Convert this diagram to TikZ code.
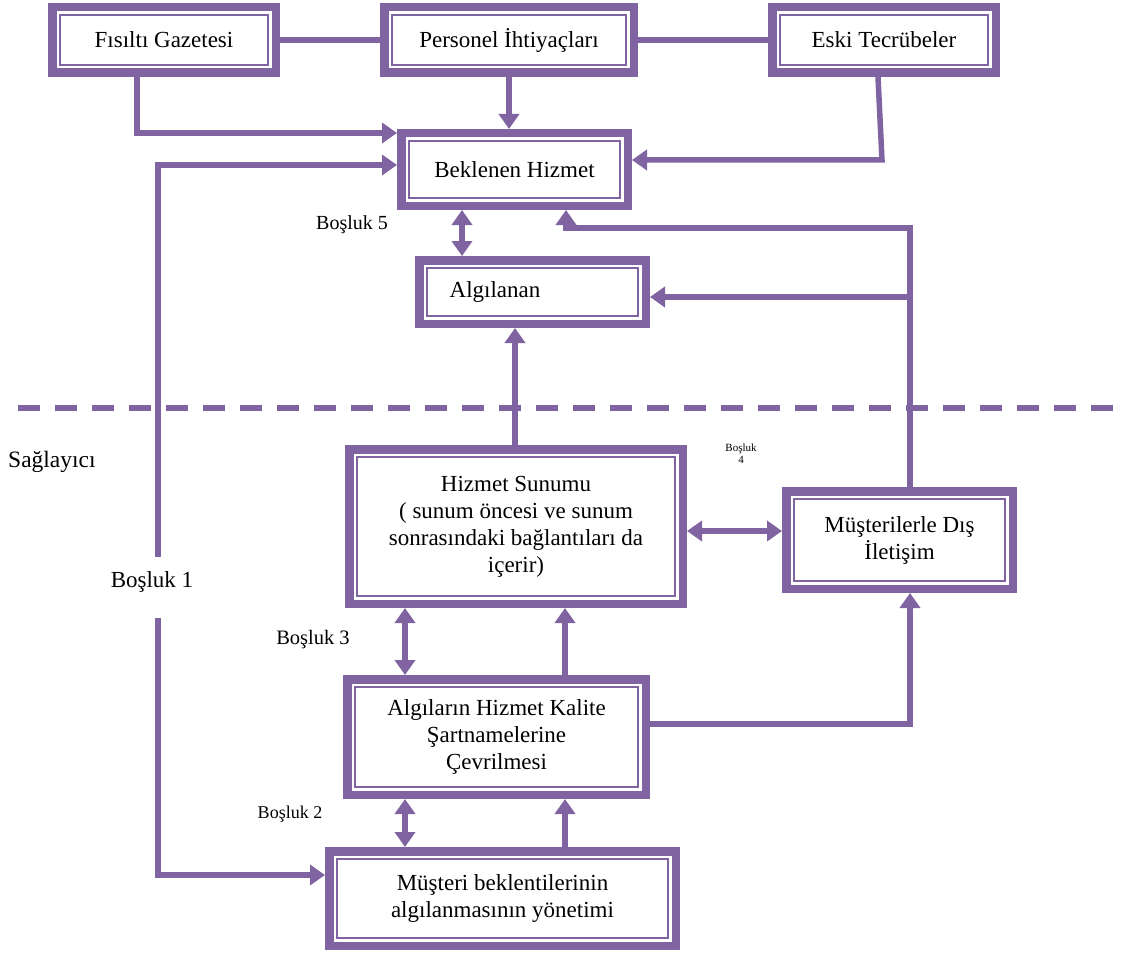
\documentclass[tikz,border=0pt]{standalone}
\usepackage{fontspec}
\setmainfont{Liberation Serif}
\usetikzlibrary{arrows.meta,calc}
\definecolor{pur}{HTML}{8064A2}
\newcommand\boxfont{\fontsize{23}{27}\selectfont}
\begin{document}
\begin{tikzpicture}[x=1pt,y=-1pt,
  box/.style={draw=pur, line width=8.5pt, fill=white, inner sep=0pt, outer sep=4.25pt, align=center, font=\boxfont},
  frame/.style={draw=pur, line width=1.6pt},
  conn/.style={draw=pur, line width=5.5pt},
  arr/.style={conn, -{Triangle[length=15pt,width=20pt]}},
  darr/.style={conn, {Triangle[length=15pt,width=20pt]}-{Triangle[length=15pt,width=20pt]}},
  lbl/.style={inner sep=0pt, align=center},
]
\useasboundingbox (0,0) rectangle (1125,955);

% boxes
\node[box, minimum width=223.5pt, minimum height=65.5pt] (fis) at (164,40) {Fısıltı Gazetesi};
\node[box, minimum width=249.5pt, minimum height=65.5pt] (per) at (509,40) {Personel İhtiyaçları};
\node[box, minimum width=223.5pt, minimum height=65.5pt] (eski) at (884,40) {Eski Tecrübeler};
\node[box, minimum width=226.5pt, minimum height=72.5pt] (bek) at (514.5,169.5) {Beklenen Hizmet};
\node[box, minimum width=226.5pt, minimum height=63.5pt] (alg) at (532.5,292) {};
\node[lbl, font=\boxfont] (algt) at (495,292) {Algılanan};
\node[box, minimum width=333.5pt, minimum height=154.5pt] (sun) at (516,526.5)
  {Hizmet Sunumu\\( sunum öncesi ve sunum\\sonrasındaki bağlantıları da\\içerir)};
\node[box, minimum width=226.5pt, minimum height=97.5pt] (mus) at (899.5,540) {Müşterilerle Dış\\İletişim};
\node[box, minimum width=298.5pt, minimum height=115.5pt] (kal) at (496.5,737)
  {Algıların Hizmet Kalite\\Şartnamelerine\\Çevrilmesi};
\node[box, minimum width=346.5pt, minimum height=94.5pt] (yon) at (502.5,898.5)
  {Müşteri beklentilerinin\\algılanmasının yönetimi};

% inner thin frames
\foreach \n in {fis,per,eski,bek,alg,sun,mus,kal,yon}
  \draw[frame] ($(\n.south west)+(12pt,12pt)$) rectangle ($(\n.north east)+(-12pt,-12pt)$);

% provider boundary
\coordinate (d1) at (18,408);
\coordinate (d2) at (1125,408);
\draw[pur, line width=6pt, dash pattern=on 22pt off 15pt] (d1) -- (d2);

% connectors
\draw[conn] (fis.east) -- (per.west);
\draw[conn] (per.east) -- (eski.west);

\coordinate (c1) at (137,133);
\draw[arr] (137,0 |- fis.south) -- (c1) -- (c1 -| bek.west);
\draw[arr] (per.south) -- (per.south |- bek.north);
\coordinate (e1) at (882,160);
\draw[arr] (878,0 |- eski.south) -- (e1) -- (e1 -| bek.east);

\coordinate (l1) at (158,165);
\coordinate (l2) at (158,557);
\coordinate (l3) at (158,618);
\coordinate (l4) at (158,875);
\draw[arr] (l2) -- (l1) -- (l1 -| bek.west);
\draw[arr] (l3) -- (l4) -- (l4 -| yon.west);

\draw[darr] (462,0 |- bek.south) -- (462,0 |- alg.north);

\coordinate (r1) at (910,228);
\coordinate (r2) at (566,228);
\coordinate (r3) at (910,297);
\draw[arr] (910,0 |- mus.north) -- (r1) -- (r2) -- (r2 |- bek.south);
\draw[arr] (r3) -- (r3 -| alg.east);

\draw[arr] (515,0 |- sun.north) -- (515,0 |- alg.south);
\draw[darr] (sun.east |- 0,531) -- (mus.west |- 0,531);

\draw[darr] (405,0 |- kal.north) -- (405,0 |- sun.south);
\draw[arr] (565,0 |- kal.north) -- (565,0 |- sun.south);

\coordinate (k1) at (910,724);
\draw[arr] (kal.east |- k1) -- (k1) -- (k1 |- mus.south);

\draw[darr] (405,0 |- yon.north) -- (405,0 |- kal.south);
\draw[arr] (565,0 |- yon.north) -- (565,0 |- kal.south);

% labels
\node[lbl, font=\fontsize{20}{22}\selectfont] (b5) at (352,225) {Boşluk 5};
\node[lbl, font=\fontsize{23.5}{26}\selectfont, anchor=west] (sag) at (8,462) {Sağlayıcı};
\node[lbl, font=\fontsize{23}{26}\selectfont] (b1) at (152,582) {Boşluk 1};
\node[lbl, font=\fontsize{11}{12}\selectfont] (b4) at (741,454) {Boşluk\\4};
\node[lbl, font=\fontsize{20.5}{22}\selectfont] (b3) at (313,640) {Boşluk 3};
\node[lbl, font=\fontsize{18}{20}\selectfont] (b2) at (290,814) {Boşluk 2};
\end{tikzpicture}
\end{document}
